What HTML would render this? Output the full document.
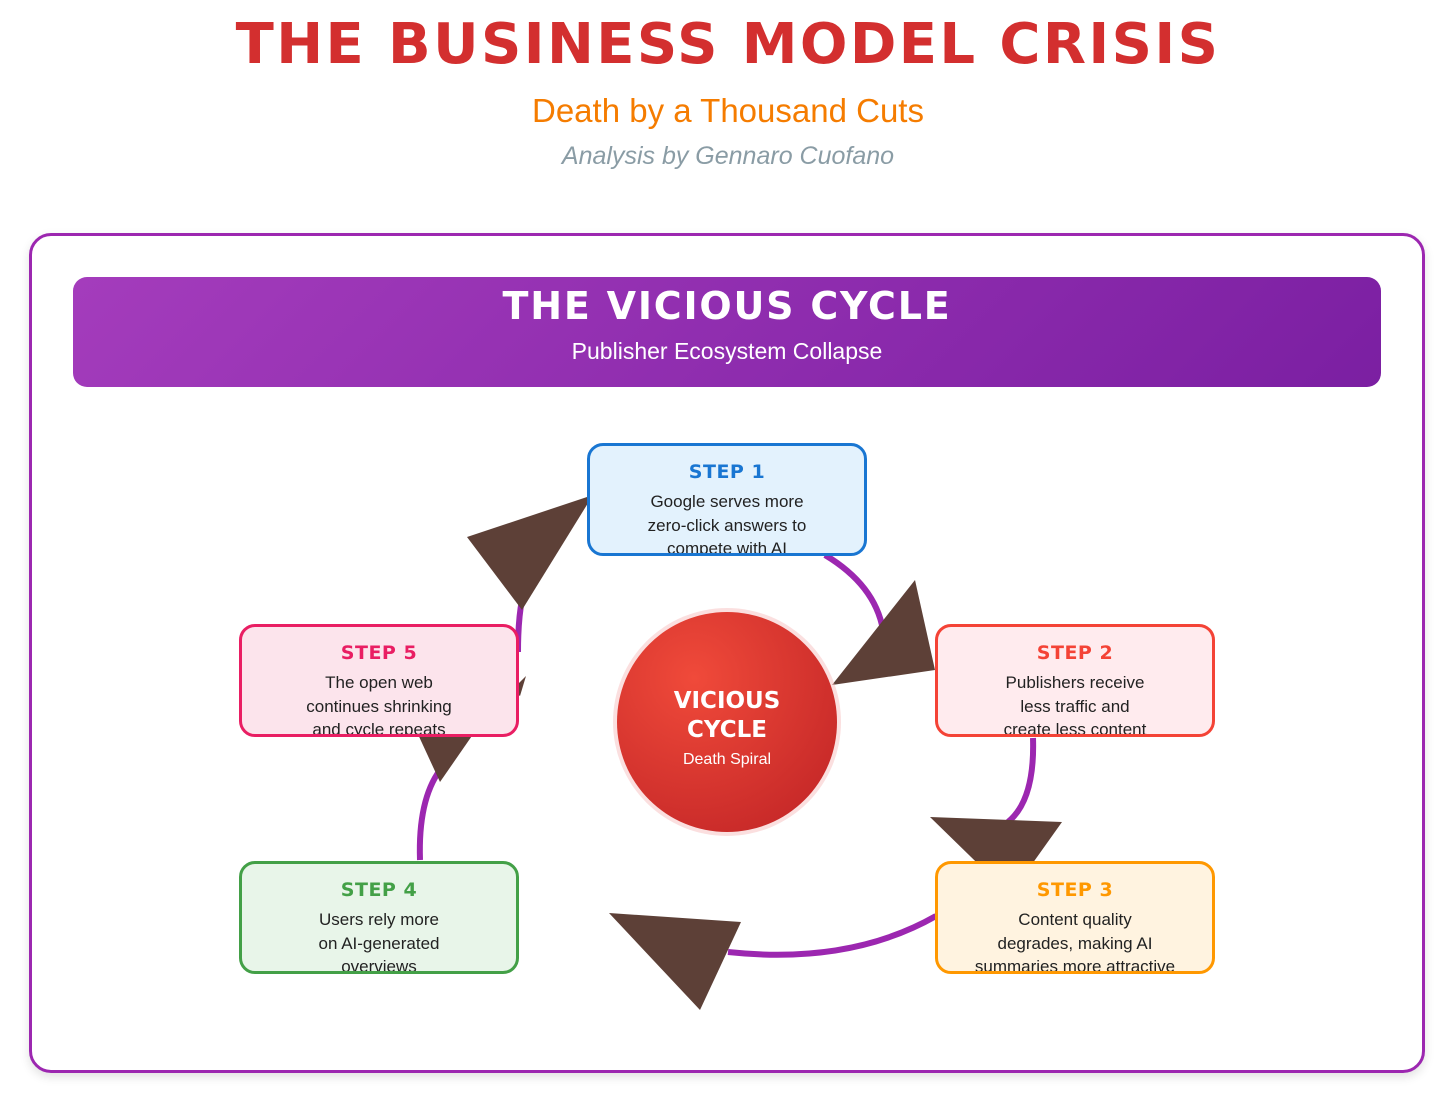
<!DOCTYPE html>
<html><head><meta charset="utf-8"><style>
body{margin:0;width:1456px;height:1093px;background:#fff;font-family:"Liberation Sans",sans-serif;position:relative;overflow:hidden}
.t{position:absolute;left:0;width:1456px;text-align:center}
.frame{position:absolute;left:29px;top:233px;width:1390px;height:834px;border:3px solid #9c27b0;border-radius:22px;box-shadow:0 4px 10px rgba(0,0,0,.12)}
.hdr{position:absolute;left:73px;top:277px;width:1308px;height:110px;border-radius:14px;background:linear-gradient(135deg,#a43cbc,#7b1fa2);color:#fff;text-align:center}
.box{position:absolute;width:274px;height:107px;border:3px solid;border-radius:16px;text-align:center;box-sizing:content-box;overflow:hidden}
.box b{display:block;font-family:"DejaVu Sans",sans-serif;font-weight:900;font-size:19px;margin-top:15px;letter-spacing:.5px}
.box p{margin:7px 0 0;font-size:17px;line-height:23.5px;color:#222}
</style></head><body>
<div class="t" style="top:12px;font-family:'DejaVu Sans',sans-serif;font-weight:900;font-size:56px;color:#d32f2f;letter-spacing:2.4px">THE BUSINESS MODEL CRISIS</div>
<div class="t" style="top:92px;font-size:33px;color:#f57c00">Death by a Thousand Cuts</div>
<div class="t" style="top:142px;font-size:25px;color:#8a9ca5;font-style:italic">Analysis by Gennaro Cuofano</div>
<div class="frame"></div>
<div class="hdr"><div style="font-family:'DejaVu Sans',sans-serif;font-weight:900;font-size:38px;margin-top:7px;letter-spacing:1.8px">THE VICIOUS CYCLE</div><div style="font-size:23px;margin-top:10px">Publisher Ecosystem Collapse</div></div>
<svg style="position:absolute;left:0;top:0" width="1456" height="1093">
<g fill="none" stroke="#9c27b0" stroke-width="6">
<path d="M825 555 Q875 585 883 630"/>
<path d="M1033 738 Q1035 800 1008 822"/>
<path d="M936 916 Q850 965 728 952"/>
<path d="M420 860 Q418 800 440 770"/>
<path d="M518 652 Q518 620 522 600"/>
</g>
<g fill="#5d4037">
<polygon points="467,537 593,495 522,610"/>
<polygon points="915,580 832,685 935,670"/>
<polygon points="930,817 1062,822 1010,895"/>
<polygon points="609,913 741,922 700,1010"/>
<polygon points="416,730 476,730 440,782"/>
<polygon points="512,690 526,676 520,696"/>
</g>
<defs><radialGradient id="g" cx="35%" cy="30%" r="80%"><stop offset="0" stop-color="#f04a3a"/><stop offset="1" stop-color="#c62828"/></radialGradient></defs>
<circle cx="727" cy="722" r="114" fill="#f8c0c0" opacity=".5"/>
<circle cx="727" cy="722" r="110" fill="url(#g)"/>
<text x="727" y="708" text-anchor="middle" font-family="DejaVu Sans" font-weight="900" font-size="23" fill="#fff">VICIOUS</text>
<text x="727" y="737" text-anchor="middle" font-family="DejaVu Sans" font-weight="900" font-size="23" fill="#fff">CYCLE</text>
<text x="727" y="764" text-anchor="middle" font-family="Liberation Sans" font-size="16" fill="#fff">Death Spiral</text>
</svg>
<div class="box" style="left:587px;top:443px;border-color:#1976d2;background:#e3f2fd"><b style="color:#1976d2">STEP 1</b><p>Google serves more<br>zero-click answers to<br>compete with AI</p></div>
<div class="box" style="left:935px;top:624px;border-color:#f44336;background:#ffebee"><b style="color:#f44336">STEP 2</b><p>Publishers receive<br>less traffic and<br>create less content</p></div>
<div class="box" style="left:935px;top:861px;border-color:#ff9800;background:#fff3e0"><b style="color:#ff9800">STEP 3</b><p>Content quality<br>degrades, making AI<br>summaries more attractive</p></div>
<div class="box" style="left:239px;top:861px;border-color:#43a047;background:#e8f5e9"><b style="color:#43a047">STEP 4</b><p>Users rely more<br>on AI-generated<br>overviews</p></div>
<div class="box" style="left:239px;top:624px;border-color:#e91e63;background:#fce4ec"><b style="color:#e91e63">STEP 5</b><p>The open web<br>continues shrinking<br>and cycle repeats</p></div>
</body></html>
